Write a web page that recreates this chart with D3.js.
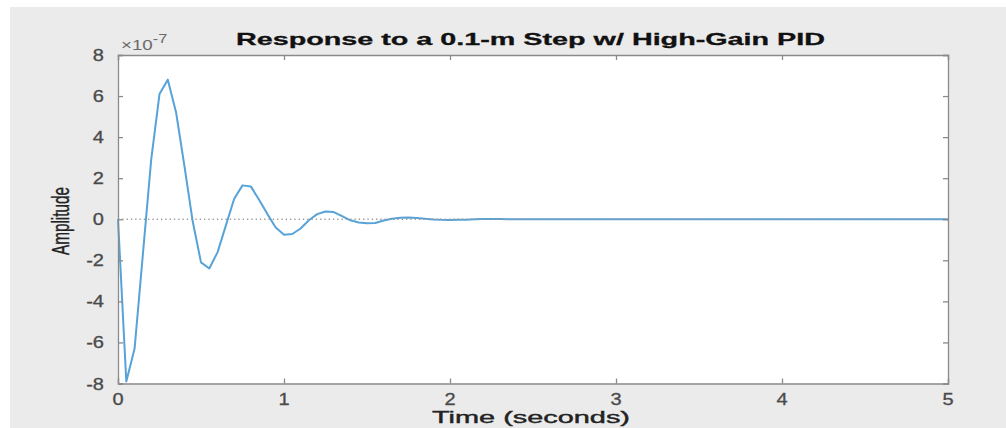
<!DOCTYPE html>
<html>
<head>
<meta charset="utf-8">
<script src="https://cdn.jsdelivr.net/npm/d3@7"></script>
<style>
    body { margin: 0; background: #ffffff; }
    text { font-family: "Liberation Sans", Arial, sans-serif; }
</style>
</head>
<body>
<div id="chart"></div>
<script>
/*
----------------------------------------------------
    Data (amplitude in units of 1e-7)
----------------------------------------------------
*/
var timeValues = [0, 0.05, 0.10, 0.15, 0.20, 0.25, 0.30, 0.35, 0.40, 0.45,
    0.50, 0.55, 0.60, 0.65, 0.70, 0.75, 0.80, 0.85, 0.90, 0.95,
    1.00, 1.05, 1.10, 1.15, 1.20, 1.25, 1.30, 1.35, 1.40, 1.45,
    1.50, 1.55, 1.60, 1.65, 1.70, 1.75, 1.80, 1.85, 1.90, 1.95,
    2.00, 2.05, 2.10, 2.15, 2.20, 2.25, 2.30, 2.35, 2.40, 2.50,
    2.60, 3.00, 4.00, 5.00];
var amplitudeValues = [0, -7.9, -6.3, -1.7, 2.9, 6.1, 6.8, 5.2, 2.6, -0.1,
    -2.1, -2.4, -1.6, -0.3, 1.0, 1.65, 1.6, 0.95, 0.25, -0.4,
    -0.75, -0.72, -0.45, -0.05, 0.25, 0.38, 0.35, 0.15, -0.05, -0.16,
    -0.2, -0.18, -0.06, 0.02, 0.07, 0.08, 0.06, 0.02, -0.01, -0.03,
    -0.04, -0.03, -0.02, 0, 0.01, 0.015, 0.01, 0, -0.005, -0.005,
    0, 0, 0, 0];
var xTicks = [0, 1, 2, 3, 4, 5];
var yTicks = [-8, -6, -4, -2, 0, 2, 4, 6, 8];
var steadyState = 0;

var width = 1006, height = 428;
var margin = { top: 55, right: 58, bottom: 44.5, left: 118 };

var svg = d3.select("#chart")
    .append("svg")
    .attr("width", width)
    .attr("height", height);

// Figure background
svg.append("rect")
    .attr("x", 10)
    .attr("y", 7)
    .attr("width", width - 10)
    .attr("height", height - 7)
    .attr("fill", "#ebebeb");

var x = d3.scaleLinear()
    .domain([0, 5])
    .range([margin.left, width - margin.right]);

var y = d3.scaleLinear()
    .domain([-8, 8])
    .range([height - margin.bottom, margin.top]);

// Plot area
svg.append("rect")
    .attr("x", x(0))
    .attr("y", y(8))
    .attr("width", x(5) - x(0))
    .attr("height", y(-8) - y(8))
    .attr("fill", "#ffffff");

// Response line
var line = d3.line()
    .x(function (d, i) { return x(timeValues[i]) })
    .y(function (d) { return y(d) });

svg.append("path")
    .datum(amplitudeValues)
    .attr("d", line)
    .attr("fill", "none")
    .attr("stroke", "#57a3d8")
    .attr("stroke-width", 2)
    .attr("stroke-linejoin", "round");

// Steady state dotted line
svg.append("line")
    .attr("x1", x(0))
    .attr("x2", x(5))
    .attr("y1", y(steadyState))
    .attr("y2", y(steadyState))
    .attr("stroke", "#9a9a9a")
    .attr("stroke-width", 1.3)
    .attr("stroke-dasharray", "1.3,3");

// Axes (ticks inside, mirrored on top and right)
var tickColor = "#8a8a8a";
svg.append("g")
    .attr("transform", "translate(0," + y(-8) + ")")
    .call(d3.axisTop(x).tickValues(xTicks).tickSize(5).tickFormat(""));
svg.append("g")
    .attr("transform", "translate(0," + y(8) + ")")
    .call(d3.axisBottom(x).tickValues(xTicks).tickSize(5).tickFormat(""));
svg.append("g")
    .attr("transform", "translate(" + x(0) + ",0)")
    .call(d3.axisRight(y).tickValues(yTicks).tickSize(5).tickFormat(""));
svg.append("g")
    .attr("transform", "translate(" + x(5) + ",0)")
    .call(d3.axisLeft(y).tickValues(yTicks).tickSize(5).tickFormat(""));
svg.selectAll(".domain, .tick line")
    .attr("stroke", tickColor)
    .attr("stroke-width", 1.3);

// Tick labels
var labelColor = "#4a4a4a";
xTicks.forEach(function (d) {
    svg.append("text")
        .attr("transform", "translate(" + x(d) + "," + 405 + ") scale(1.25,1)")
        .attr("text-anchor", "middle")
        .attr("font-size", 16)
        .attr("fill", labelColor)
        .attr("stroke", labelColor)
        .attr("stroke-width", 0.3)
        .text(d);
});
yTicks.forEach(function (d) {
    svg.append("text")
        .attr("transform", "translate(" + 104 + "," + (y(d) + 6) + ") scale(1.25,1)")
        .attr("text-anchor", "end")
        .attr("font-size", 16)
        .attr("fill", labelColor)
        .attr("stroke", labelColor)
        .attr("stroke-width", 0.3)
        .text(d);
});

// Exponent label
var expLabel = svg.append("text")
    .attr("transform", "translate(121,50) scale(1.25,1)")
    .attr("font-size", 15)
    .attr("fill", "#6a6a6a");
expLabel.append("tspan").text("\u00d710");
expLabel.append("tspan")
    .attr("dy", -7)
    .attr("font-size", 13)
    .text("-7");

// Title
svg.append("text")
    .attr("x", 236)
    .attr("y", 45)
    .attr("font-size", 17)
    .attr("font-weight", "bold")
    .attr("fill", "#111111")
    .attr("stroke", "#111111")
    .attr("stroke-width", 0.3)
    .attr("textLength", 589)
    .attr("lengthAdjust", "spacingAndGlyphs")
    .text("Response to a 0.1-m Step w/ High-Gain PID");

// Axis titles
svg.append("text")
    .attr("x", 432)
    .attr("y", 423)
    .attr("font-size", 17)
    .attr("fill", "#222222")
    .attr("stroke", "#222222")
    .attr("stroke-width", 0.4)
    .attr("textLength", 198)
    .attr("lengthAdjust", "spacingAndGlyphs")
    .text("Time (seconds)");

svg.append("text")
    .attr("transform", "translate(69,255) rotate(-90)")
    .attr("font-size", 23)
    .attr("fill", "#222222")
    .attr("stroke", "#222222")
    .attr("stroke-width", 0.4)
    .attr("textLength", 68)
    .attr("lengthAdjust", "spacingAndGlyphs")
    .text("Amplitude");
</script>
</body>
</html>
